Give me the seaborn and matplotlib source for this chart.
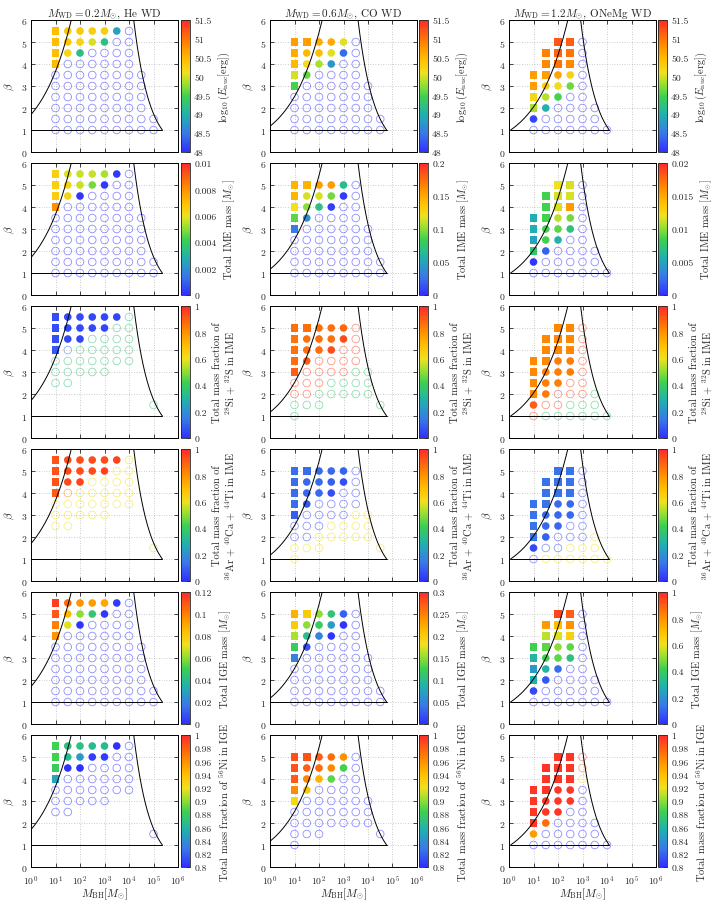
import numpy as np
import pandas as pd
import matplotlib
matplotlib.use('Agg')
import matplotlib.pyplot as plt
import seaborn as sns
from matplotlib.colors import LinearSegmentedColormap, Normalize
from matplotlib.cm import ScalarMappable
from matplotlib.ticker import FixedLocator, NullLocator, FuncFormatter, LogFormatterMathtext

sns.set_style('ticks')
plt.rcParams['font.family'] = ['cmr10', 'DejaVu Serif']
plt.rcParams['mathtext.fontset'] = 'cm'
plt.rcParams['axes.formatter.use_mathtext'] = True

# ---------------------------------------------------------------------------
# Data: models that detonate (filled markers), per white dwarf
# log10(M_BH / Msun), beta, marker ('s' = outside tidal curve)
# ---------------------------------------------------------------------------
HE_LOGM = [1, 1.5, 2, 2.5, 3, 3.5, 1, 1.5, 2, 2.5, 3, 1, 1.5, 2, 1]
HE_BETA = [5.5] * 6 + [5] * 5 + [4.5] * 3 + [4]
HE_SHAPE = ['s', 'o', 'o', 'o', 'o', 'o', 's', 'o', 'o', 'o', 'o', 's', 'o', 'o', 's']
HE_ENUC = [50.45, 50.35, 50.35, 50.3, 50.3, 48.85, 50.45, 50.35, 50.25, 50.0, 49.2, 50.45, 50.2, 49.2, 50.5]
HE_IME = [0.0065, 0.0058, 0.0056, 0.0056, 0.0053, 0.0002, 0.0065, 0.0064, 0.0056, 0.0048, 0.0002,
          0.0066, 0.0064, 0.0001, 0.0080]
HE_SIS = [0.06, 0.05, 0.05, 0.05, 0.05, 0.04, 0.06, 0.05, 0.05, 0.05, 0.04, 0.06, 0.05, 0.04, 0.08]
HE_ARCA = [0.92, 0.93, 0.93, 0.93, 0.93, 0.95, 0.92, 0.93, 0.93, 0.93, 0.95, 0.92, 0.93, 0.95, 0.90]
HE_IGE = [0.115, 0.105, 0.095, 0.093, 0.09, 0.003, 0.11, 0.085, 0.06, 0.045, 0.002, 0.10, 0.07, 0.001, 0.095]
HE_NI = [0.885, 0.87, 0.87, 0.865, 0.865, 0.80, 0.885, 0.865, 0.845, 0.805, 0.805, 0.88, 0.80, 0.80, 0.85]

CO_LOGM = [1, 1.5, 2, 2.5, 3, 1, 1.5, 2, 2.5, 3, 1, 1.5, 2, 2.5, 1, 1.5, 1]
CO_BETA = [5] * 5 + [4.5] * 5 + [4] * 4 + [3.5] * 2 + [3]
CO_SHAPE = ['s', 's', 'o', 'o', 'o', 's', 'o', 'o', 'o', 'o', 's', 'o', 'o', 'o', 's', 'o', 's']
CO_ENUC = [50.7, 50.7, 50.6, 50.6, 50.05, 50.6, 50.5, 50.45, 50.05, 48.4, 50.5, 50.15, 49.85, 48.75,
           50.0, 49.6, 49.5]
CO_IME = [0.145, 0.145, 0.155, 0.155, 0.065, 0.145, 0.115, 0.115, 0.095, 0.005, 0.12, 0.10, 0.07, 0.005,
          0.09, 0.04, 0.03]
CO_SIS = [0.87, 0.87, 0.87, 0.87, 0.88, 0.86, 0.87, 0.87, 0.87, 0.93, 0.86, 0.87, 0.87, 0.93, 0.87, 0.91, 0.90]
CO_ARCA = [0.12, 0.12, 0.11, 0.11, 0.10, 0.12, 0.11, 0.11, 0.10, 0.06, 0.12, 0.11, 0.11, 0.06, 0.12, 0.08, 0.09]
CO_IGE = [0.22, 0.20, 0.15, 0.11, 0.03, 0.20, 0.15, 0.12, 0.07, 0.003, 0.16, 0.10, 0.05, 0.003, 0.12, 0.02, 0.05]
CO_NI = [0.985, 0.985, 0.982, 0.975, 0.96, 0.985, 0.98, 0.975, 0.962, 0.885, 0.982, 0.965, 0.945, 0.89,
         0.962, 0.935, 0.925]

ONE_LOGM = [2, 2.5, 1.5, 2, 2.5, 1.5, 2, 2.5, 1, 1.5, 2, 2.5, 1, 1.5, 2, 2.5, 1, 1.5, 2, 1, 1.5, 1]
ONE_BETA = [5] * 2 + [4.5] * 3 + [4] * 3 + [3.5] * 4 + [3] * 4 + [2.5] * 3 + [2] * 2 + [1.5]
ONE_SHAPE = ['s', 's', 's', 's', 's', 's', 's', 's', 's', 's', 'o', 'o', 's', 'o', 'o', 'o',
             's', 'o', 'o', 's', 'o', 'o']
ONE_ENUC = [51.2, 51.15, 50.9, 51.1, 51.0, 50.85, 51.0, 50.85, 50.7, 50.7, 50.65, 50.25,
            50.7, 50.3, 50.15, 49.65, 50.2, 49.9, 49.5, 49.85, 49.0, 48.15]
ONE_IME = [0.012, 0.0115, 0.0085, 0.0115, 0.0115, 0.0085, 0.0115, 0.0155, 0.0055, 0.0085, 0.011, 0.0095,
           0.0055, 0.0085, 0.009, 0.007, 0.005, 0.0085, 0.0058, 0.0075, 0.002, 0.0003]
ONE_SIS = [0.82, 0.82, 0.82, 0.82, 0.82, 0.82, 0.82, 0.82, 0.82, 0.82, 0.84, 0.84,
           0.82, 0.84, 0.84, 0.84, 0.82, 0.84, 0.84, 0.82, 0.85, 0.90]
ONE_ARCA = [0.13, 0.13, 0.13, 0.13, 0.13, 0.13, 0.13, 0.13, 0.13, 0.13, 0.11, 0.11,
            0.13, 0.11, 0.11, 0.11, 0.13, 0.11, 0.11, 0.13, 0.10, 0.05]
ONE_IGE = [0.95, 0.90, 0.78, 0.70, 0.80, 0.55, 0.58, 0.65, 0.42, 0.45, 0.50, 0.45,
           0.30, 0.42, 0.45, 0.35, 0.22, 0.30, 0.12, 0.28, 0.08, 0.05]
ONE_NI = [0.995] * 20 + [0.975, 0.955]

# ---------------------------------------------------------------------------
# Models without detonation (open circles): all of them, by beta row
# ---------------------------------------------------------------------------
HE_OPEN_BETA = [5.5, 5, 4.5, 4, 3.5, 3, 2.5, 2, 1.5, 1]
HE_OPEN_LOGM = [[4], [3.5, 4], [2.5, 3, 3.5, 4], [1.5, 2, 2.5, 3, 3.5, 4],
                [1, 1.5, 2, 2.5, 3, 3.5, 4, 4.5], [1, 1.5, 2, 2.5, 3, 3.5, 4, 4.5],
                [1, 1.5, 2, 2.5, 3, 3.5, 4, 4.5], [1, 1.5, 2, 2.5, 3, 3.5, 4, 4.5],
                [1, 1.5, 2, 2.5, 3, 3.5, 4, 4.5, 5], [1, 1.5, 2, 2.5, 3, 3.5, 4, 4.5, 5]]
CO_OPEN_BETA = [5, 4.5, 4, 3.5, 3, 2.5, 2, 1.5, 1]
CO_OPEN_LOGM = [[3.5], [3.5], [3, 3.5], [2, 2.5, 3, 3.5], [1.5, 2, 2.5, 3, 3.5, 4],
                [1, 1.5, 2, 2.5, 3, 3.5, 4], [1, 1.5, 2, 2.5, 3, 3.5, 4],
                [1, 1.5, 2, 2.5, 3, 3.5, 4, 4.5], [1, 1.5, 2, 2.5, 3, 3.5, 4, 4.5]]
ONE_OPEN_BETA = [5, 4.5, 4, 3.5, 3, 2.5, 2, 1.5, 1]
ONE_OPEN_LOGM = [[3], [3], [3], [3], [3], [2.5, 3], [2, 2.5, 3, 3.5], [1.5, 2, 2.5, 3, 3.5],
                 [1, 1.5, 2, 2.5, 3, 3.5, 4]]

# non-detonating models that still burn some IME / IGE (faint open circles)
HE_SUB_BETA = [5.5, 5, 4.5, 4, 3.5, 3, 2.5, 1.5]
HE_SUB_LOGM = [[4], [3.5, 4], [2.5, 3, 3.5, 4], [1.5, 2, 2.5, 3, 3.5, 4],
               [1, 1.5, 2, 2.5, 3, 3.5, 4], [1, 1.5, 2, 2.5, 3], [1, 1.5], [5]]
HE_SUB_SIS = [[0.36], [0.36, 0.36], [0.36, 0.36, 0.36, 0.36], [0.12, 0.36, 0.36, 0.36, 0.36, 0.36],
              [0.36, 0.36, 0.36, 0.36, 0.36, 0.36, 0.36], [0.36, 0.36, 0.36, 0.36, 0.36], [0.36, 0.36], [0.38]]
HE_SUB_ARCA = [[0.6], [0.6, 0.6], [0.6, 0.6, 0.6, 0.6], [0.85, 0.6, 0.6, 0.6, 0.6, 0.6],
               [0.6, 0.6, 0.6, 0.6, 0.6, 0.6, 0.6], [0.6, 0.6, 0.6, 0.6, 0.6], [0.6, 0.6], [0.58]]
HE_SUB_NI = [[0.5], [0.5, 0.5], [0.5, 0.5, 0.5, 0.5], [0.5, 0.5, 0.5, 0.5, 0.5, 0.5],
             [0.5, 0.5, 0.5, 0.5, 0.5, 0.5, 0.5], [0.5, 0.5, 0.5, 0.5, 0.5], [0.5, 0.5], [0.5]]

CO_SUB_BETA = [5, 4.5, 4, 3.5, 3, 2.5, 2, 1.5, 1]
CO_SUB_LOGM = [[3.5], [3.5], [3, 3.5], [2, 2.5, 3, 3.5], [1.5, 2, 2.5, 3, 3.5, 4],
               [1, 1.5, 2, 2.5, 3, 3.5, 4], [1, 1.5, 2, 2.5, 3, 3.5, 4], [1, 1.5, 2, 4.5], [1]]
CO_SUB_SIS = [[0.95], [0.95], [0.95, 0.95], [0.95, 0.95, 0.95, 0.95],
              [0.95, 0.95, 0.95, 0.95, 0.38, 0.38], [0.95, 0.95, 0.95, 0.38, 0.38, 0.38, 0.38],
              [0.95, 0.95, 0.38, 0.38, 0.38, 0.38, 0.38], [0.38, 0.38, 0.38, 0.38], [0.38]]
CO_SUB_ARCA = [[0.04], [0.04], [0.04, 0.04], [0.04, 0.04, 0.04, 0.04],
               [0.04, 0.04, 0.04, 0.04, 0.6, 0.6], [0.04, 0.04, 0.04, 0.6, 0.6, 0.6, 0.6],
               [0.04, 0.04, 0.6, 0.6, 0.6, 0.6, 0.6], [0.6, 0.6, 0.6, 0.6], [0.6]]
CO_SUB_NI = [[0.5], [0.5], [0.5, 0.5], [0.5, 0.5, 0.5, 0.5], [0.5, 0.5, 0.5, 0.5, 0.5, 0.5],
             [0.5, 0.5, 0.5, 0.5, 0.5, 0.5, 0.5], [0.5, 0.5, 0.5, 0.5, 0.5, 0.5, 0.5],
             [0.5, 0.5, 0.5, 0.5], [0.5]]

ONE_SUB_BETA = ONE_OPEN_BETA
ONE_SUB_LOGM = ONE_OPEN_LOGM
ONE_SUB_SIS = [[0.95], [0.95], [0.95], [0.95], [0.95], [0.95, 0.95], [0.95, 0.95, 0.95, 0.38],
               [0.95, 0.95, 0.38, 0.38, 0.38], [0.95, 0.38, 0.38, 0.38, 0.38, 0.38, 0.38]]
ONE_SUB_ARCA = [[0.04], [0.04], [0.04], [0.04], [0.04], [0.04, 0.04], [0.04, 0.04, 0.04, 0.6],
                [0.04, 0.04, 0.6, 0.6, 0.6], [0.04, 0.6, 0.6, 0.6, 0.6, 0.6, 0.6]]
ONE_SUB_NI = [[0.99], [0.975], [0.92], [0.5], [0.5], [0.5, 0.5], [0.5, 0.5, 0.5, 0.5],
              [0.5, 0.5, 0.5, 0.5, 0.5], [0.5, 0.5, 0.5, 0.5, 0.5, 0.5, 0.5]]

# tidal-disruption boundary curves: beta = a * M^(1/3) and beta = (M / M_end)^(-2/3)
CURVE_A = [1.7, 1.17, 0.95]
CURVE_LOGM_END = [5.36, 4.76, 4.09]

TITLES = [r'$M_{\rm WD} = 0.2M_{\odot}$, He WD',
          r'$M_{\rm WD} = 0.6M_{\odot}$, CO WD',
          r'$M_{\rm WD} = 1.2M_{\odot}$, ONeMg WD']

CB_LABELS = [r'$\log_{10}(E_{\rm nuc}[{\rm erg}])$',
             r'Total IME mass $[M_{\odot}]$',
             'Total mass fraction of\n' + r'$^{28}$Si + $^{32}$S in IME',
             'Total mass fraction of\n' + r'$^{36}$Ar + $^{40}$Ca + $^{44}$Ti in IME',
             r'Total IGE mass $[M_{\odot}]$',
             r'Total mass fraction of $^{56}$Ni in IGE']

X_TICKS = [1e0, 1e1, 1e2, 1e3, 1e4, 1e5, 1e6]
ENUC_TICKS = [48, 48.5, 49, 49.5, 50, 50.5, 51, 51.5]
FRAC_TICKS = [0, 0.2, 0.4, 0.6, 0.8, 1]
NI_TICKS = [0.8, 0.82, 0.84, 0.86, 0.88, 0.9, 0.92, 0.94, 0.96, 0.98, 1]
CB_TICKS = [
    [ENUC_TICKS, ENUC_TICKS, ENUC_TICKS],
    [[0, 0.002, 0.004, 0.006, 0.008, 0.01], [0, 0.05, 0.1, 0.15, 0.2], [0, 0.005, 0.01, 0.015, 0.02]],
    [FRAC_TICKS, FRAC_TICKS, FRAC_TICKS],
    [FRAC_TICKS, FRAC_TICKS, FRAC_TICKS],
    [[0, 0.02, 0.04, 0.06, 0.08, 0.1, 0.12], [0, 0.05, 0.1, 0.15, 0.2, 0.25, 0.3], FRAC_TICKS],
    [NI_TICKS, NI_TICKS, NI_TICKS],
]

CMAP = LinearSegmentedColormap.from_list('det', [
    (0.00, '#3030ff'), (0.14, '#3a78e8'), (0.28, '#20b0b0'), (0.42, '#3dd050'),
    (0.52, '#a0e030'), (0.60, '#f0e020'), (0.70, '#ffc000'), (0.82, '#ff8800'),
    (1.00, '#ff2a2a')])

WDS = [
    dict(logm=HE_LOGM, beta=HE_BETA, shape=HE_SHAPE,
         vals=[HE_ENUC, HE_IME, HE_SIS, HE_ARCA, HE_IGE, HE_NI],
         open_beta=HE_OPEN_BETA, open_logm=HE_OPEN_LOGM,
         sub_beta=HE_SUB_BETA, sub_logm=HE_SUB_LOGM,
         sub_vals={2: HE_SUB_SIS, 3: HE_SUB_ARCA, 5: HE_SUB_NI}),
    dict(logm=CO_LOGM, beta=CO_BETA, shape=CO_SHAPE,
         vals=[CO_ENUC, CO_IME, CO_SIS, CO_ARCA, CO_IGE, CO_NI],
         open_beta=CO_OPEN_BETA, open_logm=CO_OPEN_LOGM,
         sub_beta=CO_SUB_BETA, sub_logm=CO_SUB_LOGM,
         sub_vals={2: CO_SUB_SIS, 3: CO_SUB_ARCA, 5: CO_SUB_NI}),
    dict(logm=ONE_LOGM, beta=ONE_BETA, shape=ONE_SHAPE,
         vals=[ONE_ENUC, ONE_IME, ONE_SIS, ONE_ARCA, ONE_IGE, ONE_NI],
         open_beta=ONE_OPEN_BETA, open_logm=ONE_OPEN_LOGM,
         sub_beta=ONE_SUB_BETA, sub_logm=ONE_SUB_LOGM,
         sub_vals={2: ONE_SUB_SIS, 3: ONE_SUB_ARCA, 5: ONE_SUB_NI}),
]


def expand(betas, logms, vals=None):
    b, m, v = [], [], []
    for i, bb in enumerate(betas):
        for j, mm in enumerate(logms[i]):
            b.append(bb)
            m.append(mm)
            v.append(vals[i][j] if vals is not None else np.nan)
    return pd.DataFrame({'beta': b, 'mbh': 10.0 ** np.array(m, dtype=float), 'val': v})


def draw_curves(ax, a, logm_end):
    m_end = 10.0 ** logm_end
    m_lo = max(1.0, (1.0 / a) ** 3)
    m = np.logspace(np.log10(m_lo), np.log10((6.0 / a) ** 3), 200)
    ax.plot(m, a * m ** (1 / 3), color='black', lw=0.7)
    m = np.logspace(logm_end - 1.5 * np.log10(6.0), logm_end, 200)
    ax.plot(m, (m / m_end) ** (-2 / 3), color='black', lw=0.7)
    ax.plot([m_lo, m_end], [1, 1], color='black', lw=0.7)


W, H = 715, 903
fig = plt.figure(figsize=(W / 100, H / 100), dpi=100)

AX_LEFT = [31, 270, 509]
CB_LEFT = [181, 419, 658]
ROW_TOP = [21, 164, 307, 450, 593, 736]
AX_W, AX_H, CB_W = 147, 132, 9
MARKER_S = 30

for row in range(6):
    for col in range(3):
        wd = WDS[col]
        ticks = CB_TICKS[row][col]
        norm = Normalize(vmin=ticks[0], vmax=ticks[-1])
        bottom = 1 - (ROW_TOP[row] + AX_H) / H
        ax = fig.add_axes([AX_LEFT[col] / W, bottom, AX_W / W, AX_H / H])
        cax = fig.add_axes([CB_LEFT[col] / W, bottom, CB_W / W, AX_H / H])

        ax.set_xscale('log')
        ax.set_xlim(1, 1e6)
        ax.set_ylim(0, 6)
        ax.set_axisbelow(True)
        ax.grid(True, color='#bbbbbb', linestyle=(0, (1, 2)), linewidth=0.6)

        # open circles: models without detonation
        if row in wd['sub_vals']:
            odf = expand(wd['sub_beta'], wd['sub_logm'], wd['sub_vals'][row])
        else:
            odf = expand(wd['open_beta'], wd['open_logm'])
            odf['val'] = ticks[0]
        ax.scatter(odf['mbh'], odf['beta'], s=MARKER_S, facecolors='none',
                   edgecolors=CMAP(norm(odf['val'].to_numpy())), linewidths=0.6, alpha=0.55)

        # filled markers: detonating models
        det = pd.DataFrame({'mbh': 10.0 ** np.array(wd['logm'], dtype=float), 'beta': wd['beta'],
                            'shape': wd['shape'], 'val': wd['vals'][row]})
        sns.scatterplot(data=det, x='mbh', y='beta', hue='val', hue_norm=norm, palette=CMAP,
                        style='shape', markers={'s': 's', 'o': 'o'}, s=MARKER_S, linewidth=0,
                        legend=False, ax=ax)

        draw_curves(ax, CURVE_A[col], CURVE_LOGM_END[col])

        ax.xaxis.set_major_locator(FixedLocator(X_TICKS))
        ax.xaxis.set_major_formatter(LogFormatterMathtext())
        ax.xaxis.set_minor_locator(NullLocator())
        ax.set_yticks(range(7))
        ax.tick_params(direction='in', top=True, right=True, length=3, width=0.6,
                       labelsize=7, pad=2.5)
        ax.tick_params(axis='x', pad=4.5)
        for sp in ax.spines.values():
            sp.set_color('black')
            sp.set_linewidth(0.7)
        ax.set_ylabel(r'$\beta$', fontsize=8, labelpad=3)
        if row == 5:
            ax.set_xlabel(r'$M_{\rm BH}[M_{\odot}]$', fontsize=8, labelpad=-1)
        else:
            ax.set_xlabel('')
            ax.tick_params(labelbottom=False)
        if row == 0:
            ax.set_title(TITLES[col], fontsize=8, pad=3)

        cb = fig.colorbar(ScalarMappable(norm=norm, cmap=CMAP), cax=cax)
        cb.set_ticks(ticks)
        cb.ax.yaxis.set_major_formatter(FuncFormatter(lambda v, p: f'{v:g}'))
        cb.ax.tick_params(direction='in', length=3, width=0.5, labelsize=7, pad=3)
        cb.outline.set_linewidth(0.6)
        cb.set_label(CB_LABELS[row], fontsize=7.5, labelpad=4)

fig.savefig('out.png', dpi=100)
